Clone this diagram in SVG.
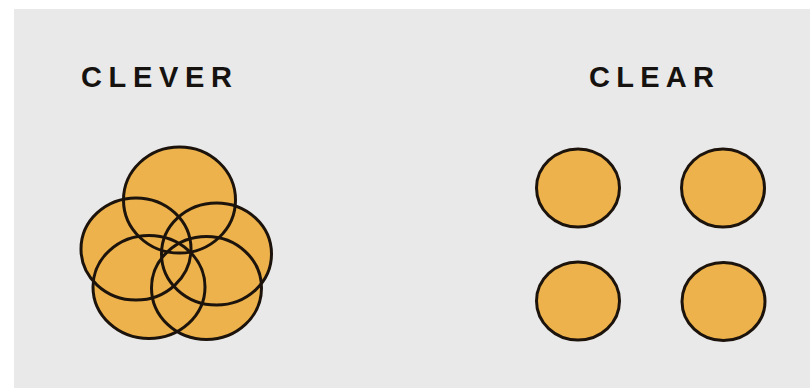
<svg xmlns="http://www.w3.org/2000/svg" width="810" height="388" viewBox="0 0 810 388">
  <style>
    .bg { fill: #e9e9e9; }
    .title { font-family: "Liberation Sans", Arial, sans-serif; font-weight: bold; font-size: 29px; fill: #161210; }
    .fill { fill: #edb24b; stroke: none; }
    .ring { fill: none; stroke: #1c140c; stroke-width: 3; }
    .dot { fill: #edb24b; stroke: #1c140c; stroke-width: 3; }
  </style>
  <rect x="0" y="0" width="810" height="388" fill="#ffffff"/>
  <rect class="bg" x="14" y="9" width="796" height="379"/>

  <g id="clever-label">
    <text class="title" x="81" y="87" textLength="151" lengthAdjust="spacing">CLEVER</text>
  </g>
  <g id="clear-label">
    <text class="title" x="589" y="87" textLength="125" lengthAdjust="spacing">CLEAR</text>
  </g>

  <g id="clever-cluster">
    <g id="clever-fills">
      <ellipse class="fill" cx="179.5" cy="200" rx="56" ry="53"/>
      <ellipse class="fill" cx="136" cy="249" rx="55" ry="51"/>
      <ellipse class="fill" cx="216.5" cy="254" rx="55" ry="51"/>
      <ellipse class="fill" cx="149" cy="287" rx="56" ry="51.5"/>
      <ellipse class="fill" cx="206.5" cy="288" rx="55" ry="51.5"/>
    </g>
    <g id="clever-rings">
      <ellipse class="ring" cx="179.5" cy="200" rx="56" ry="53"/>
      <ellipse class="ring" cx="136" cy="249" rx="55" ry="51"/>
      <ellipse class="ring" cx="216.5" cy="254" rx="55" ry="51"/>
      <ellipse class="ring" cx="149" cy="287" rx="56" ry="51.5"/>
      <ellipse class="ring" cx="206.5" cy="288" rx="55" ry="51.5"/>
    </g>
  </g>

  <g id="clear-top-left"><ellipse class="dot" cx="578" cy="188" rx="41.5" ry="39"/></g>
  <g id="clear-top-right"><ellipse class="dot" cx="723" cy="188" rx="41.5" ry="39"/></g>
  <g id="clear-bottom-left"><ellipse class="dot" cx="578" cy="301" rx="41.5" ry="39"/></g>
  <g id="clear-bottom-right"><ellipse class="dot" cx="723.5" cy="301.5" rx="41.5" ry="39"/></g>
</svg>
